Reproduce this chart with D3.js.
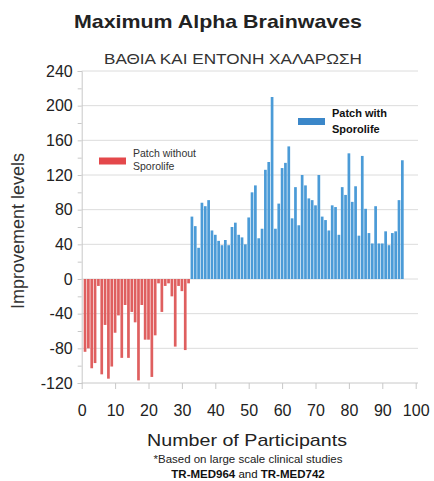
<!DOCTYPE html>
<html><head><meta charset="utf-8">
<script src="https://cdn.jsdelivr.net/npm/d3@7"></script>
<style>
html,body{margin:0;padding:0;background:#fff;}
text{font-family:"Liberation Sans",Arial,sans-serif;}
</style></head>
<body>
<svg id="c" width="434" height="481"></svg>
<script>
// ---- data ----
const redParticipants = d3.range(1, 33);
const redValues = [-84,-80,-103,-97,-8,-110,-53,-115,-101,-62,-42,-91,-30,-91,-38,-50,
                   -117,-30,-70,-70,-113,-65,-5,-38,-8,-5,-20,-78,-8,-14,-82,-5];
const blueParticipants = d3.range(33, 97);
const blueValues = [72,61,36,88,84,91,56,51,44,39,45,39,60,65,51,48,40,71,100,108,47,58,
                    126,135,210,58,87,128,134,153,70,106,62,120,108,93,91,85,120,72,68,56,85,
                    83,51,106,97,145,89,107,50,142,81,53,41,84,41,41,55,39,53,55,91,137];
const yTicks = [240,200,160,120,80,40,0,-40,-80,-120];
const xTicks = [0,10,20,30,40,50,60,70,80,90,100];
const legendRed = ["Patch without","Sporolife"];
const legendBlue = ["Patch with","Sporolife"];
const titleText = "Maximum Alpha Brainwaves";
const subtitleText = "ΒΑΘΙΑ ΚΑΙ ΕΝΤΟΝΗ ΧΑΛΑΡΩΣΗ";
const xTitle = "Number of Participants";
const yTitle = "Improvement levels";
const note1 = "*Based on large scale clinical studies";

const svg = d3.select("#c");
const x = d3.scaleLinear().domain([0,100]).range([81.7,415.7]);
const y = d3.scaleLinear().domain([-120,240]).range([383,71]);
const bw = 2.7;

// gridlines
svg.append("g").selectAll("line").data(yTicks.filter(v=>v!==-120)).join("line")
  .attr("x1", x(0)).attr("x2", 418).attr("y1", d=>y(d)).attr("y2", d=>y(d))
  .attr("stroke", "#dcdcdc").attr("stroke-width", 1);

// bars
svg.append("g").selectAll("rect").data(redParticipants.map((p,i)=>({p, v:redValues[i]}))).join("rect")
  .attr("x", d=>x(d.p)-bw/2).attr("width", bw)
  .attr("y", y(0)).attr("height", d=>y(d.v)-y(0))
  .attr("fill", "#df5f5f");
svg.append("g").selectAll("rect").data(blueParticipants.map((p,i)=>({p, v:blueValues[i]}))).join("rect")
  .attr("x", d=>x(d.p)-bw/2).attr("width", bw)
  .attr("y", d=>y(d.v)).attr("height", d=>y(0)-y(d.v))
  .attr("fill", "#4b9bd7");

// y axis
const ya = svg.append("g").attr("transform", `translate(${x(0)},0)`)
  .call(d3.axisLeft(y).tickValues(d3.range(-120,241,20)).tickSize(4).tickFormat(d => yTicks.includes(d) ? d : ""));
ya.select(".domain").attr("stroke", "#c8c8c8");
ya.selectAll(".tick line").attr("stroke", "#c8c8c8");
ya.selectAll(".tick text").attr("x", -9).attr("font-size", 16).attr("fill", "#222")
  .attr("font-family", "Liberation Sans, Arial, sans-serif");

// x axis
const xa = svg.append("g").attr("transform", `translate(0,${y(-120)})`)
  .call(d3.axisBottom(x).tickValues(xTicks).tickSize(6).tickPadding(16));
xa.select(".domain").attr("stroke", "#c8c8c8").attr("d", `M${x(0)},0H418`);
xa.selectAll(".tick line").attr("stroke", "#c8c8c8");
xa.selectAll(".tick text").attr("font-size", 16).attr("fill", "#222")
  .attr("font-family", "Liberation Sans, Arial, sans-serif");

// titles
svg.append("text").attr("x", 218).attr("y", 28).attr("text-anchor", "middle")
  .attr("font-size", 19).attr("font-weight", "bold").attr("fill", "#222")
  .attr("textLength", 288).attr("lengthAdjust", "spacingAndGlyphs").text(titleText);
svg.append("text").attr("x", 233).attr("y", 64).attr("text-anchor", "middle")
  .attr("font-size", 15.5).attr("fill", "#333")
  .attr("textLength", 258).attr("lengthAdjust", "spacingAndGlyphs").text(subtitleText);

svg.append("text").attr("transform", "translate(24,231) rotate(-90)").attr("text-anchor", "middle")
  .attr("font-size", 18).attr("fill", "#333").text(yTitle);

svg.append("text").attr("x", 247).attr("y", 446).attr("text-anchor", "middle")
  .attr("font-size", 17).attr("fill", "#222")
  .attr("textLength", 200).attr("lengthAdjust", "spacingAndGlyphs").text(xTitle);
svg.append("text").attr("x", 248).attr("y", 463).attr("text-anchor", "middle")
  .attr("font-size", 11).attr("fill", "#222")
  .attr("textLength", 189).attr("lengthAdjust", "spacingAndGlyphs").text(note1);
const n2 = svg.append("text").attr("x", 248).attr("y", 478).attr("text-anchor", "middle")
  .attr("font-size", 11.5).attr("fill", "#111");
n2.append("tspan").attr("font-weight", "bold").text("TR-MED964");
n2.append("tspan").text(" and ");
n2.append("tspan").attr("font-weight", "bold").text("TR-MED742");

// legends
svg.append("rect").attr("x", 99).attr("y", 157.5).attr("width", 27).attr("height", 7).attr("fill", "#e4484b");
svg.append("g").selectAll("text").data(legendRed).join("text")
  .attr("x", 133).attr("y", (d,i)=>157+i*12.5).attr("font-size", 10.5).attr("fill", "#333").text(d=>d);
svg.append("rect").attr("x", 298).attr("y", 118).attr("width", 27).attr("height", 7).attr("fill", "#3b87c9");
svg.append("g").selectAll("text").data(legendBlue).join("text")
  .attr("x", 332).attr("y", (d,i)=>117+i*16).attr("font-size", 11).attr("font-weight", "bold").attr("fill", "#111").text(d=>d);
</script>
</body></html>
